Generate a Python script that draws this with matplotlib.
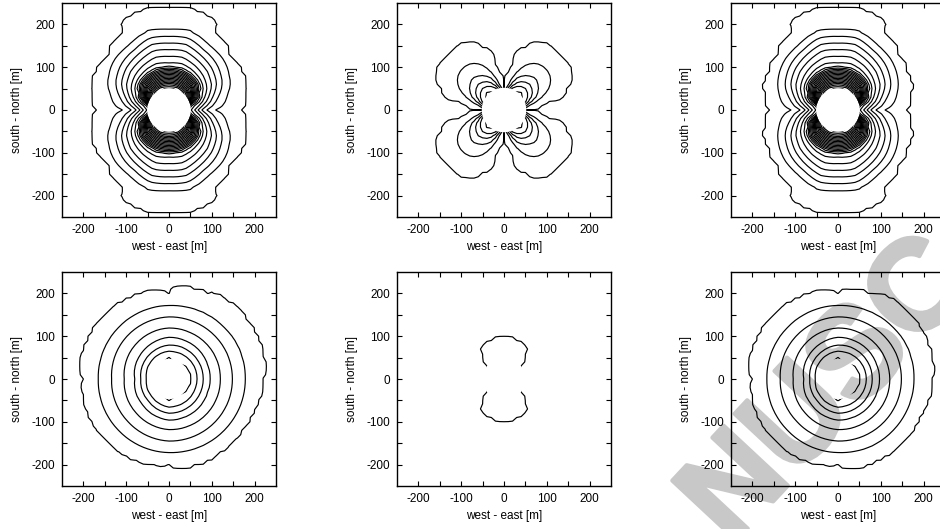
import numpy as np
import matplotlib.pyplot as plt
import matplotlib.patheffects as pe
from matplotlib.path import Path
from matplotlib.patches import PathPatch

plt.rcParams['font.family'] = ['Liberation Sans', 'DejaVu Sans']
plt.rcParams['font.size'] = 8.5
plt.rcParams['axes.unicode_minus'] = False

# survey grid [m]
step = 10.0
xs = np.arange(-260, 260 + step, step)
X, Y = np.meshgrid(xs, xs)

# ---- top row: crossing radius [m] of each contour along bearings (deg from east),
# one quadrant, outermost contour first
quad_bearing = [0, 15, 30, 45, 60, 75, 90]

p1_outer = [
    [165, 180, 190, 188, 205, 238, 235],
    [108, 140, 162, 175, 179, 190, 187],
    [88, 118, 142, 155, 162, 174, 172],
    [76, 104, 128, 140, 148, 158, 156],
    [68, 93, 115, 127, 134, 143, 141],
    [60, 82, 102, 113, 120, 127, 125],
    [53, 72, 92, 102, 108, 112, 110],
]
p3_outer = [
    [160, 168, 182, 188, 205, 238, 235],
    [110, 142, 160, 172, 178, 189, 187],
    [88, 118, 141, 154, 162, 174, 172],
    [76, 104, 127, 139, 148, 158, 156],
    [68, 93, 114, 126, 134, 143, 141],
    [60, 82, 101, 112, 120, 127, 125],
    [53, 72, 91, 101, 108, 112, 110],
]
# tightly packed inner contours: radius due north and relative shape
dense_north = [101, 98, 95, 92, 89, 86, 83, 80, 77, 74, 71, 68, 65, 62, 59, 56, 53]
dense_shape = [0.40, 0.52, 0.80, 0.94, 0.98, 1.0, 1.0]

# clover: one octant (0-45 deg), mirrored
oct_bearing = [0, 5, 11, 21, 30, 38, 45]
p2_lobes = [
    [30, 48, 88, 150, 175, 182, 182],
    [28, 44, 62, 100, 125, 135, 137],
    [26, 41, 53, 78, 92, 100, 103],
    [24, 38, 47, 64, 76, 82, 85],
    [22, 35, 43, 55, 64, 69, 71],
    [20, 32, 40, 47, 54, 58, 60],
]

# bottom middle: single contour, one quadrant
p5_bearing = [0, 30, 40, 45, 50, 58, 72, 90]
p5_ring = [[30, 35, 45, 60, 75, 88, 93, 97]]

# ---- bottom row: full circle of bearings
full_bearing = [0, 25, 45, 65, 90, 135, 180, 225, 270, 295, 315, 340, 360]
p4_rings = [
    [215, 226, 228, 218, 195, 210, 200, 203, 198, 208, 205, 208, 215],
    [178, 178, 176, 174, 172, 168, 165, 168, 172, 174, 176, 178, 178],
    [148, 148, 147, 146, 145, 140, 134, 138, 145, 146, 147, 148, 148],
    [120, 120, 120, 119, 119, 112, 104, 110, 118, 119, 120, 120, 120],
    [95, 96, 97, 97, 97, 88, 80, 86, 95, 96, 96, 95, 95],
    [80, 80, 80, 80, 79, 72, 65, 70, 80, 80, 80, 80, 80],
    [65, 66, 66, 66, 65, 60, 55, 58, 66, 66, 66, 65, 65],
    [53, 52, 49, 38, 51, 36, 34, 36, 51, 42, 49, 52, 53],
]
p6_rings = [
    [216, 224, 225, 212, 197, 210, 200, 203, 197, 210, 207, 210, 216],
    [177, 178, 176, 174, 172, 168, 166, 168, 172, 175, 176, 177, 177],
    [148, 148, 147, 146, 145, 140, 135, 138, 145, 146, 147, 148, 148],
    [121, 120, 120, 119, 119, 112, 104, 110, 118, 119, 120, 121, 121],
    [96, 96, 97, 97, 97, 88, 80, 86, 95, 96, 96, 96, 96],
    [80, 80, 80, 80, 79, 72, 65, 70, 80, 80, 80, 80, 80],
    [66, 66, 66, 66, 65, 60, 55, 58, 66, 66, 66, 66, 66],
    [53, 52, 49, 38, 51, 36, 34, 36, 52, 42, 49, 52, 53],
]


def level_field(bearing, radii, fold):
    """Contour index field built from crossing radii along bearings."""
    r = np.hypot(X, Y)
    th = np.degrees(np.arctan2(Y, X)) % 360.0
    if fold >= 4:
        th = th % 180.0
        th = np.where(th > 90, 180 - th, th)
    if fold == 8:
        th = np.where(th > 45, 90 - th, th)
    b = np.asarray(bearing, float)
    R = np.asarray(radii, float)
    n = R.shape[0]
    cols = []
    for j in range(len(b)):
        xp = np.concatenate([[0.0], R[::-1, j], [2000.0]])
        fp = np.concatenate([[n + 1.0], np.arange(n, 0, -1.0), [0.0]])
        cols.append(np.interp(r, xp, fp))
    cols = np.array(cols)
    k = np.clip(np.searchsorted(b, th, side='right') - 1, 0, len(b) - 2)
    w = (th - b[k]) / (b[k + 1] - b[k])
    lo = np.take_along_axis(cols, k[None], 0)[0]
    hi = np.take_along_axis(cols, (k + 1)[None], 0)[0]
    return lo + w * (hi - lo), n


def hole_clip(ax, radius):
    """Clip region: whole plot minus the blank disc around the source."""
    outer = np.array([[-300, -300], [300, -300], [300, 300], [-300, 300], [-300, -300]])
    t = np.linspace(0, 2 * np.pi, 121)[::-1]
    inner = np.column_stack([radius * np.cos(t), radius * np.sin(t)])
    verts = np.vstack([outer, inner])
    codes = ([Path.MOVETO] + [Path.LINETO] * 3 + [Path.CLOSEPOLY]
             + [Path.MOVETO] + [Path.LINETO] * (len(inner) - 2) + [Path.CLOSEPOLY])
    return PathPatch(Path(verts, codes), transform=ax.transData)


def draw(ax, field, n, hole_r):
    cs = ax.contour(X, Y, field, levels=np.arange(1, n + 1), colors='k', linewidths=0.85)
    cs.set_clip_path(hole_clip(ax, hole_r))


def style(ax):
    ax.set_xlim(-250, 250)
    ax.set_ylim(-250, 250)
    ax.set_facecolor('none')
    ax.set_xticks(np.arange(-200, 201, 100))
    ax.set_yticks(np.arange(-200, 201, 100))
    ax.set_xticks(np.arange(-200, 201, 50), minor=True)
    ax.set_yticks(np.arange(-200, 201, 50), minor=True)
    ax.tick_params(which='both', direction='in', top=True, right=True,
                   length=3.5, width=0.8, pad=5)
    for s in ax.spines.values():
        s.set_linewidth(1.0)
    ax.set_xlabel('west - east [m]', labelpad=4)
    ax.set_ylabel('south - north [m]', labelpad=6)


fig = plt.figure(figsize=(9.4, 5.29), dpi=100)
W, H = 940.0, 529.0
lefts = [62, 397, 731]
tops = [3, 272]
size = 214
axes = []
for t in tops:
    for l in lefts:
        ax = fig.add_axes([l / W, 1 - (t + size) / H, size / W, size / H])
        style(ax)
        axes.append(ax)

dense = [[rn * s for s in dense_shape] for rn in dense_north]

f, n = level_field(quad_bearing, p1_outer + dense, 4)
draw(axes[0], f, n, 51)
f, n = level_field(oct_bearing, p2_lobes, 8)
draw(axes[1], f, n, 52)
f, n = level_field(quad_bearing, p3_outer + dense, 4)
draw(axes[2], f, n, 51)
f, n = level_field(full_bearing, p4_rings, 1)
draw(axes[3], f, n, 47)
f, n = level_field(p5_bearing, p5_ring, 4)
draw(axes[4], f, n, 50)
f, n = level_field(full_bearing, p6_rings, 1)
draw(axes[5], f, n, 47)

fig.text(830 / W, 1 - 392 / H, 'NUSC', rotation=47, fontsize=92, fontweight='bold',
         color='#c8c8c8', ha='center', va='center', rotation_mode='anchor', zorder=-1,
         path_effects=[pe.withStroke(linewidth=3, foreground='#c8c8c8')])

fig.savefig('out.png', dpi=100, facecolor='white')
